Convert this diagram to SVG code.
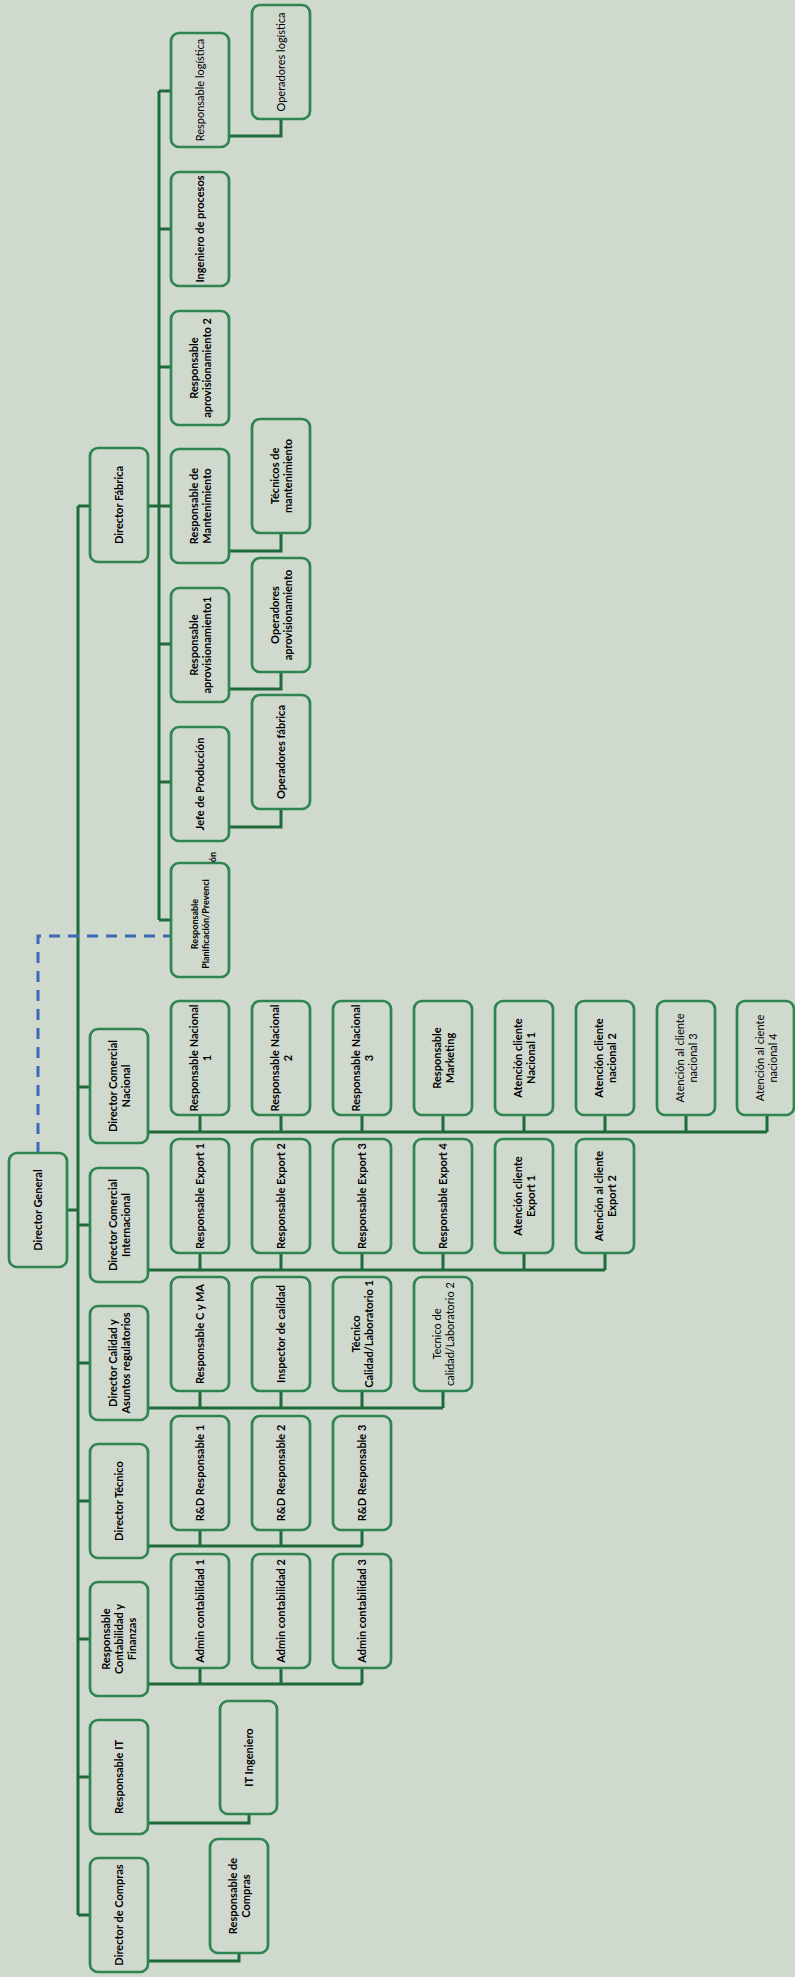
<svg xmlns="http://www.w3.org/2000/svg" width="795" height="1977" viewBox="0 0 795 1977">
<style>
.b{fill:#CFD9CD;stroke:#2F8552;stroke-width:2.7}
.t{font-family:Lato,"Liberation Sans",sans-serif;font-size:11px;font-weight:bold;fill:#000;text-anchor:middle}
.n{font-weight:normal}
.s{font-size:9px}
.c{fill:none;stroke:#1E6A3A;stroke-width:3}
.d{fill:none;stroke:#3F68B8;stroke-width:3;stroke-dasharray:11 8}
</style>
<rect x="0" y="0" width="795" height="1977" fill="#CFD9CD"/>
<g id="connectors">
<path class="c" d="M67,1210H78M78,506V1915M78,506H90M78,1087H90M78,1225H90M78,1363H90M78,1501H90M78,1639H90M78,1777H90M78,1915H90"/>
<path class="c" d="M148,506H159M159,91V920M159,91H171M159,229H171M159,367H171M159,506H171M159,644H171M159,782H171M159,920H171"/>
<path class="c" d="M229,136H281V119M229,551H281V534M229,689H281V673M229,827H281V809"/>
<path class="c" d="M148,1132H767M200,1115V1132M281,1115V1132M362,1115V1132M443,1115V1132M524,1115V1132M605,1115V1132M686,1115V1132M767,1115V1132"/>
<path class="c" d="M148,1270H605M200,1253V1270M281,1253V1270M362,1253V1270M443,1253V1270M524,1253V1270M605,1253V1270"/>
<path class="c" d="M148,1408H443M200,1391V1408M281,1391V1408M362,1391V1408M443,1391V1408"/>
<path class="c" d="M148,1546H362M200,1530V1546M281,1530V1546M362,1530V1546"/>
<path class="c" d="M148,1684H362M200,1668V1684M281,1668V1684M362,1668V1684"/>
<path class="c" d="M148,1823H249V1814M148,1961H239V1953"/>
<path class="d" d="M38,1153V936H171"/>
</g>
<g id="dg"><rect class="b" x="9" y="1153" width="58" height="114" rx="8"/><text class="t" transform="rotate(-90 38 1210)" x="38" y="1214">Director General</text></g>
<g id="dfab"><rect class="b" x="90" y="448" width="58" height="114" rx="8"/><text class="t" transform="rotate(-90 119 505)" x="119" y="509">Director Fábrica</text></g>
<g id="dcn"><rect class="b" x="90" y="1029" width="58" height="114" rx="8"/><text class="t" transform="rotate(-90 119 1086)" x="119" y="1083.5">Director Comercial<tspan x="119" dy="13">Nacional</tspan></text></g>
<g id="dci"><rect class="b" x="90" y="1168" width="58" height="114" rx="8"/><text class="t" transform="rotate(-90 119 1225)" x="119" y="1222.5">Director Comercial<tspan x="119" dy="13">Internacional</tspan></text></g>
<g id="dcal"><rect class="b" x="90" y="1306" width="58" height="114" rx="8"/><text class="t" transform="rotate(-90 119 1363)" x="119" y="1360.5">Director Calidad y<tspan x="119" dy="13">Asuntos regulatorios</tspan></text></g>
<g id="dtec"><rect class="b" x="90" y="1444" width="58" height="114" rx="8"/><text class="t" transform="rotate(-90 119 1501)" x="119" y="1505">Director Técnico</text></g>
<g id="rcf"><rect class="b" x="90" y="1582" width="58" height="114" rx="8"/><text class="t" transform="rotate(-90 119 1639)" x="119" y="1630">Responsable<tspan x="119" dy="13">Contabilidad y</tspan><tspan x="119" dy="13">Finanzas</tspan></text></g>
<g id="rit"><rect class="b" x="90" y="1720" width="58" height="114" rx="8"/><text class="t" transform="rotate(-90 119 1777)" x="119" y="1781">Responsable IT</text></g>
<g id="dcom"><rect class="b" x="90" y="1858" width="58" height="114" rx="8"/><text class="t" transform="rotate(-90 119 1915)" x="119" y="1919">Director de Compras</text></g>
<g id="rlog"><rect class="b" x="171" y="33" width="58" height="114" rx="8"/><text class="t n" transform="rotate(-90 200 90)" x="200" y="94">Responsable logística</text></g>
<g id="ingp"><rect class="b" x="171" y="172" width="58" height="114" rx="8"/><text class="t" transform="rotate(-90 200 229)" x="200" y="233">Ingeniero de procesos</text></g>
<g id="rap2"><rect class="b" x="171" y="311" width="58" height="114" rx="8"/><text class="t" transform="rotate(-90 200 368)" x="200" y="365.5">Responsable<tspan x="200" dy="13">aprovisionamiento 2</tspan></text></g>
<g id="rman"><rect class="b" x="171" y="449" width="58" height="114" rx="8"/><text class="t" transform="rotate(-90 200 506)" x="200" y="503.5">Responsable de<tspan x="200" dy="13">Mantenimiento</tspan></text></g>
<g id="rap1"><rect class="b" x="171" y="588" width="58" height="114" rx="8"/><text class="t" transform="rotate(-90 200 645)" x="200" y="642.5">Responsable<tspan x="200" dy="13">aprovisionamiento1</tspan></text></g>
<g id="jpro"><rect class="b" x="171" y="727" width="58" height="114" rx="8"/><text class="t" transform="rotate(-90 200 784)" x="200" y="788">Jefe de Producción</text></g>
<g id="rpla"><rect class="b" x="171" y="863" width="58" height="114" rx="8"/><text class="t s" transform="rotate(-90 200 924)" x="200" y="922">Responsable<tspan x="200" dy="11">Planificación/Prevenci</tspan></text><text class="t s" transform="rotate(-90 213 857)" x="213" y="860">ón</text></g>
<g id="opl"><rect class="b" x="252" y="5" width="58" height="114" rx="8"/><text class="t n" transform="rotate(-90 281 62)" x="281" y="66">Operadores logística</text></g>
<g id="tman"><rect class="b" x="252" y="419" width="58" height="114" rx="8"/><text class="t" transform="rotate(-90 281 476)" x="281" y="473.5">Técnicos de<tspan x="281" dy="13">mantenimiento</tspan></text></g>
<g id="opap"><rect class="b" x="252" y="558" width="58" height="114" rx="8"/><text class="t" transform="rotate(-90 281 615)" x="281" y="612.5">Operadores<tspan x="281" dy="13">aprovisionamiento</tspan></text></g>
<g id="opfa"><rect class="b" x="252" y="695" width="58" height="114" rx="8"/><text class="t" transform="rotate(-90 281 752)" x="281" y="756">Operadores fábrica</text></g>
<g id="rn1"><rect class="b" x="171" y="1001" width="58" height="114" rx="8"/><text class="t" transform="rotate(-90 200 1058)" x="200" y="1055.5">Responsable Nacional<tspan x="200" dy="13">1</tspan></text></g>
<g id="rn2"><rect class="b" x="252" y="1001" width="58" height="114" rx="8"/><text class="t" transform="rotate(-90 281 1058)" x="281" y="1055.5">Responsable Nacional<tspan x="281" dy="13">2</tspan></text></g>
<g id="rn3"><rect class="b" x="333" y="1001" width="58" height="114" rx="8"/><text class="t" transform="rotate(-90 362 1058)" x="362" y="1055.5">Responsable Nacional<tspan x="362" dy="13">3</tspan></text></g>
<g id="rmk"><rect class="b" x="414" y="1001" width="58" height="114" rx="8"/><text class="t" transform="rotate(-90 443 1058)" x="443" y="1055.5">Responsable<tspan x="443" dy="13">Marketing</tspan></text></g>
<g id="acn1"><rect class="b" x="495" y="1001" width="58" height="114" rx="8"/><text class="t" transform="rotate(-90 524 1058)" x="524" y="1055.5">Atención cliente<tspan x="524" dy="13">Nacional 1</tspan></text></g>
<g id="acn2"><rect class="b" x="576" y="1001" width="58" height="114" rx="8"/><text class="t" transform="rotate(-90 605 1058)" x="605" y="1055.5">Atención cliente<tspan x="605" dy="13">nacional 2</tspan></text></g>
<g id="acn3"><rect class="b" x="657" y="1001" width="58" height="114" rx="8"/><text class="t n" transform="rotate(-90 686 1058)" x="686" y="1055.5">Atención al cliente<tspan x="686" dy="13">nacional 3</tspan></text></g>
<g id="acn4"><rect class="b" x="737" y="1001" width="57" height="114" rx="8"/><text class="t n" transform="rotate(-90 766 1058)" x="766" y="1055.5">Atención al ciente<tspan x="766" dy="13">nacional 4</tspan></text></g>
<g id="re1"><rect class="b" x="171" y="1139" width="58" height="114" rx="8"/><text class="t" transform="rotate(-90 200 1196)" x="200" y="1200">Responsable Export 1</text></g>
<g id="re2"><rect class="b" x="252" y="1139" width="58" height="114" rx="8"/><text class="t" transform="rotate(-90 281 1196)" x="281" y="1200">Responsable Export 2</text></g>
<g id="re3"><rect class="b" x="333" y="1139" width="58" height="114" rx="8"/><text class="t" transform="rotate(-90 362 1196)" x="362" y="1200">Responsable Export 3</text></g>
<g id="re4"><rect class="b" x="414" y="1139" width="58" height="114" rx="8"/><text class="t" transform="rotate(-90 443 1196)" x="443" y="1200">Responsable Export 4</text></g>
<g id="ace1"><rect class="b" x="495" y="1139" width="58" height="114" rx="8"/><text class="t" transform="rotate(-90 524 1196)" x="524" y="1193.5">Atención cliente<tspan x="524" dy="13">Export 1</tspan></text></g>
<g id="ace2"><rect class="b" x="576" y="1139" width="58" height="114" rx="8"/><text class="t" transform="rotate(-90 605 1196)" x="605" y="1193.5">Atención al cliente<tspan x="605" dy="13">Export 2</tspan></text></g>
<g id="rcma"><rect class="b" x="171" y="1277" width="58" height="114" rx="8"/><text class="t" transform="rotate(-90 200 1334)" x="200" y="1338">Responsable C y MA</text></g>
<g id="insp"><rect class="b" x="252" y="1277" width="58" height="114" rx="8"/><text class="t" transform="rotate(-90 281 1334)" x="281" y="1338">Inspector de calidad</text></g>
<g id="tcl1"><rect class="b" x="333" y="1277" width="58" height="114" rx="8"/><text class="t" transform="rotate(-90 362 1334)" x="362" y="1331.5">Técnico<tspan x="362" dy="13">Calidad/Laboratorio 1</tspan></text></g>
<g id="tcl2"><rect class="b" x="414" y="1277" width="58" height="114" rx="8"/><text class="t n" transform="rotate(-90 443 1334)" x="443" y="1331.5">Tecnico de<tspan x="443" dy="13">calidad/Laboratorio 2</tspan></text></g>
<g id="rd1"><rect class="b" x="171" y="1416" width="58" height="114" rx="8"/><text class="t" transform="rotate(-90 200 1473)" x="200" y="1477">R&amp;D Responsable 1</text></g>
<g id="rd2"><rect class="b" x="252" y="1416" width="58" height="114" rx="8"/><text class="t" transform="rotate(-90 281 1473)" x="281" y="1477">R&amp;D Responsable 2</text></g>
<g id="rd3"><rect class="b" x="333" y="1416" width="58" height="114" rx="8"/><text class="t" transform="rotate(-90 362 1473)" x="362" y="1477">R&amp;D Responsable 3</text></g>
<g id="ac1"><rect class="b" x="171" y="1554" width="58" height="114" rx="8"/><text class="t" transform="rotate(-90 200 1611)" x="200" y="1615">Admin contabilidad 1</text></g>
<g id="ac2"><rect class="b" x="252" y="1554" width="58" height="114" rx="8"/><text class="t" transform="rotate(-90 281 1611)" x="281" y="1615">Admin contabilidad 2</text></g>
<g id="ac3"><rect class="b" x="333" y="1554" width="58" height="114" rx="8"/><text class="t" transform="rotate(-90 362 1611)" x="362" y="1615">Admin contabilidad 3</text></g>
<g id="itin"><rect class="b" x="220" y="1701" width="57" height="113" rx="8"/><text class="t" transform="rotate(-90 248.5 1757.5)" x="248.5" y="1761.5">IT Ingeniero</text></g>
<g id="rcom"><rect class="b" x="210" y="1839" width="58" height="114" rx="8"/><text class="t" transform="rotate(-90 239 1896)" x="239" y="1893.5">Responsable de<tspan x="239" dy="13">Compras</tspan></text></g>
</svg>
